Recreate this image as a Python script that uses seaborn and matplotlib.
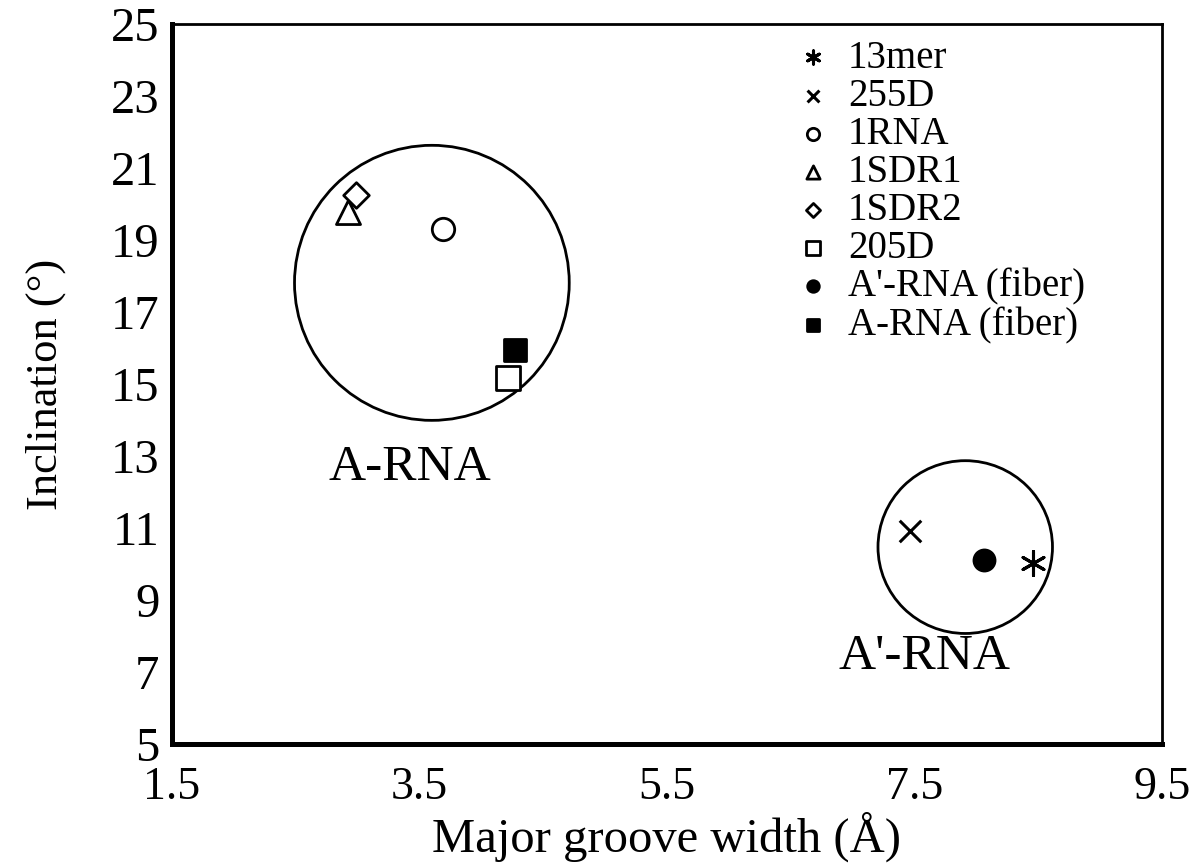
import matplotlib
matplotlib.use("Agg")
import matplotlib.pyplot as plt
from matplotlib.patches import Ellipse
import seaborn as sns

# ---- data ----
series_labels = ["13mer", "255D", "1RNA", "1SDR1", "1SDR2", "205D",
                 "A'-RNA (fiber)", "A-RNA (fiber)"]
groove_width = [8.46, 7.46, 3.69, 2.92, 2.99, 4.215, 8.06, 4.27]
inclination = [10.03, 10.92, 19.31, 19.78, 20.25, 15.17, 10.11, 15.94]
markers = [(6, 2, 0), "x", "o", "^", "D", "s", "o", "s"]
filled = [False, False, False, False, False, False, True, True]
marker_sizes = [300, 240, 260, 300, 170, 300, 230, 230]

cluster_names = ["A-RNA", "A'-RNA"]
cluster_cx = [3.60, 7.91]
cluster_cy = [17.81, 10.47]
cluster_rx = [1.11, 0.705]
cluster_ry = [3.82, 2.40]
cluster_label_x = [3.42, 7.58]
cluster_label_y = [12.67, 7.42]

x_ticks = [1.5, 3.5, 5.5, 7.5, 9.5]
y_ticks = [5, 7, 9, 11, 13, 15, 17, 19, 21, 23, 25]

sns.set_theme(style="white")
plt.rcParams["font.family"] = ["Liberation Serif", "DejaVu Serif"]
plt.rcParams["text.color"] = "black"
plt.rcParams["axes.labelcolor"] = "black"

fig = plt.figure(figsize=(11.9, 8.63), dpi=100)
ax = fig.add_axes([172 / 1190, 1 - 744 / 863, 990 / 1190, 720 / 863])

for lab, gx, iy, mk, fl, sz in zip(series_labels, groove_width, inclination,
                                    markers, filled, marker_sizes):
    line_art = mk in ("x", (6, 2, 0))
    if line_art:
        sns.scatterplot(x=[gx], y=[iy], marker=mk, s=sz, color="black",
                        linewidth=2.2, ax=ax, label=lab, zorder=3)
    else:
        sns.scatterplot(x=[gx], y=[iy], marker=mk, s=sz,
                        facecolor="black" if fl else "white",
                        edgecolor="black", linewidth=2.0, ax=ax,
                        label=lab, zorder=3)

for name, cx, cy, rx, ry, lx, ly in zip(cluster_names, cluster_cx, cluster_cy,
                                        cluster_rx, cluster_ry,
                                        cluster_label_x, cluster_label_y):
    ax.add_patch(Ellipse((cx, cy), 2 * rx, 2 * ry, fill=False,
                         edgecolor="black", linewidth=2.0, zorder=2))
    ax.text(lx, ly, name, ha="center", va="center", fontsize=37,
            color="black")

ax.set_xlim(x_ticks[0], x_ticks[-1])
ax.set_ylim(y_ticks[0], y_ticks[-1])
ax.set_xticks(x_ticks)
ax.set_xticklabels([f"{v:.1f}" for v in x_ticks])
ax.set_yticks(y_ticks)
ax.set_yticklabels([str(v) for v in y_ticks])
ax.tick_params(axis="both", length=0, colors="black")
ax.tick_params(axis="x", pad=16, labelsize=33)
ax.tick_params(axis="y", pad=9, labelsize=35)
ax.set_xlabel("Major groove width (Å)", fontsize=35, labelpad=2,
              color="black")
ax.set_ylabel("Inclination (°)", fontsize=32, labelpad=32, color="black")

for side in ["left", "bottom"]:
    ax.spines[side].set_linewidth(3.6)
for side in ["top", "right"]:
    ax.spines[side].set_linewidth(2.0)
for sp in ax.spines.values():
    sp.set_color("black")
    sp.set_visible(True)

leg = ax.legend(loc="upper left", bbox_to_anchor=(0.62, 1.0),
                frameon=False, fontsize=28, markerscale=0.55,
                handlelength=0.6, handletextpad=0.6, labelspacing=0.03,
                borderaxespad=0)
for t in leg.get_texts():
    t.set_color("black")

fig.savefig("out.png", dpi=100, facecolor="white")
